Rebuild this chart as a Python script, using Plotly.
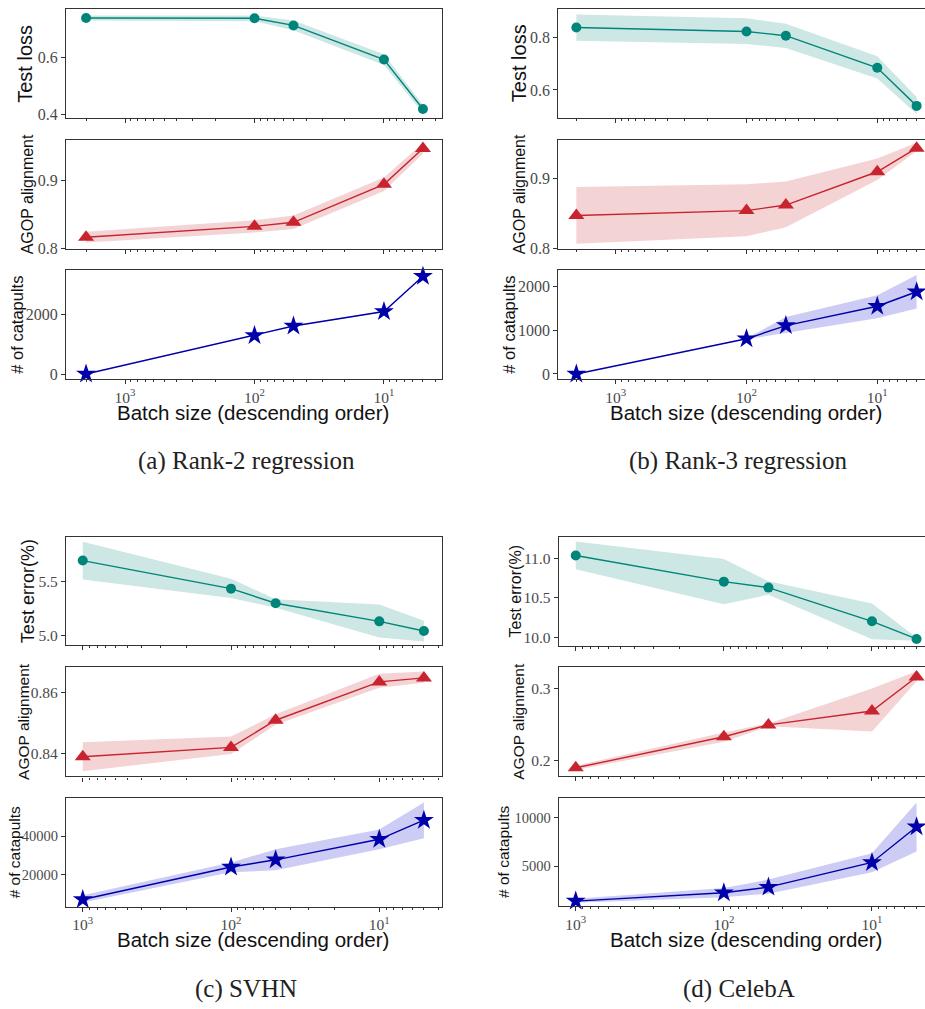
import plotly.graph_objects as go

W, H = 925, 1009

# ---------------- data ----------------
batch_ab = [2000, 100, 50, 10, 5]
batch_cd = [1000, 100, 50, 10, 5]

# (a) Rank-2 regression
a_loss    = [0.740, 0.739, 0.714, 0.594, 0.420]
a_loss_lo = [0.731, 0.729, 0.697, 0.575, 0.406]
a_loss_hi = [0.749, 0.749, 0.731, 0.613, 0.434]
a_agop    = [0.816, 0.832, 0.838, 0.894, 0.947]
a_agop_lo = [0.808, 0.823, 0.828, 0.884, 0.939]
a_agop_hi = [0.824, 0.841, 0.848, 0.904, 0.955]
a_cat     = [0, 1300, 1620, 2110, 3300]
a_cat_lo  = [0, 1290, 1605, 2090, 3280]
a_cat_hi  = [0, 1310, 1635, 2130, 3320]

# (b) Rank-3 regression
b_loss    = [0.836, 0.821, 0.805, 0.684, 0.540]
b_loss_lo = [0.786, 0.774, 0.759, 0.643, 0.509]
b_loss_hi = [0.885, 0.871, 0.850, 0.727, 0.574]
b_agop    = [0.847, 0.854, 0.862, 0.910, 0.944]
b_agop_lo = [0.806, 0.817, 0.830, 0.898, 0.940]
b_agop_hi = [0.888, 0.892, 0.896, 0.929, 0.952]
b_cat     = [0, 800, 1100, 1540, 1870]
b_cat_lo  = [0, 790, 932, 1270, 1488]
b_cat_hi  = [0, 810, 1293, 1788, 2248]

# (c) SVHN
c_err     = [5.687, 5.431, 5.298, 5.133, 5.045]
c_err_lo  = [5.515, 5.347, 5.256, 4.985, 4.949]
c_err_hi  = [5.859, 5.522, 5.335, 5.287, 5.139]
c_agop    = [0.8391, 0.8421, 0.8509, 0.8633, 0.8646]
c_agop_lo = [0.8344, 0.8400, 0.8494, 0.8614, 0.8630]
c_agop_hi = [0.8438, 0.8456, 0.8528, 0.8659, 0.8667]
c_cat     = [7200, 24000, 27700, 38300, 48200]
c_cat_lo  = [5640, 21230, 22260, 33180, 38800]
c_cat_hi  = [9400, 26360, 33100, 43430, 57300]

# (d) CelebA
d_err     = [11.034, 10.705, 10.630, 10.205, 9.983]
d_err_lo  = [10.860, 10.420, 10.540, 9.980, 9.960]
d_err_hi  = [11.210, 10.990, 10.710, 10.430, 10.000]
d_agop    = [0.190, 0.233, 0.2495, 0.2688, 0.316]
d_agop_lo = [0.187, 0.226, 0.2475, 0.2404, 0.310]
d_agop_hi = [0.193, 0.239, 0.2515, 0.300, 0.324]
d_cat     = [1450, 2300, 2880, 5400, 9050]
d_cat_lo  = [1280, 1850, 2200, 4390, 6520]
d_cat_hi  = [1700, 2800, 3650, 6350, 11520]

xtick_vals = [1000, 100, 10]
xtick_text = ["10<sup>3</sup>", "10<sup>2</sup>", "10<sup>1</sup>"]
minor_vals = [k * 10 ** e for e in range(0, 4) for k in range(2, 10)]

captions = ["(a) Rank-2 regression", "(b) Rank-3 regression", "(c) SVHN", "(d) CelebA"]

# ---------------- styles ----------------
TEAL, TEAL_F = "#00857a", "rgba(0,133,122,0.2)"
RED, RED_F = "#c8242f", "rgba(200,36,47,0.2)"
BLUE, BLUE_F = "#0000aa", "rgba(0,0,200,0.2)"
SPINE = "#333333"
TICKC = "#4a4a4a"
SERIF = "Liberation Serif, Times New Roman, serif"
SANS = "Liberation Sans, Arial, sans-serif"

panels = [
    dict(x=batch_ab, xr=[3.456, 0.554], xbox=(66, 441.7), right=False,
         rows=[(9.3, 119.3), (141, 250.7), (272.3, 382.3)],
         series=[(a_loss, a_loss_lo, a_loss_hi), (a_agop, a_agop_lo, a_agop_hi), (a_cat, a_cat_lo, a_cat_hi)],
         yr=[[0.387, 0.771], [0.799, 0.9596], [-178, 3507]],
         yt=[([0.4, 0.6], ["0.4", "0.6"]), ([0.8, 0.9], ["0.8", "0.9"]), ([0, 2000], ["0", "2000"])],
         ytitle=["Test loss", "AGOP alignment", "# of catapults"], ytsize=[20, 16, 16.5],
         ytx=[25, 27, 17], xtitle_c=253.5, xtitle_y=416, cap=(246, 465), tfs=[16, 16, 16]),
    dict(x=batch_ab, xr=[3.439, 0.635], xbox=(558.3, 925), right=True,
         rows=[(9.3, 119.0), (141, 250.7), (272.3, 382.3)],
         series=[(b_loss, b_loss_lo, b_loss_hi), (b_agop, b_agop_lo, b_agop_hi), (b_cat, b_cat_lo, b_cat_hi)],
         yr=[[0.494, 0.905], [0.799, 0.956], [-120, 2361]],
         yt=[([0.6, 0.8], ["0.6", "0.8"]), ([0.8, 0.9], ["0.8", "0.9"]), ([0, 1000, 2000], ["0", "1000", "2000"])],
         ytitle=["Test loss", "AGOP alignment", "# of catapults"], ytsize=[20, 16, 16.5],
         ytx=[518.5, 519, 509], xtitle_c=745.6, xtitle_y=416, cap=(737.5, 465), tfs=[16, 16, 16]),
    dict(x=batch_cd, xr=[3.113, 0.579], xbox=(66, 441.7), right=False,
         rows=[(541.7, 650), (672.7, 782.7), (804.3, 914)],
         series=[(c_err, c_err_lo, c_err_hi), (c_agop, c_agop_lo, c_agop_hi), (c_cat, c_cat_lo, c_cat_hi)],
         yr=[[4.919, 5.898], [0.8327, 0.868], [3436, 59692]],
         yt=[([5.0, 5.5], ["5.0", "5.5"]), ([0.84, 0.86], ["0.84", "0.86"]), ([20000, 40000], ["20000", "40000"])],
         ytitle=["Test error(%)", "AGOP alignment", "# of catapults"], ytsize=[18, 15.5, 15.5],
         ytx=[28, 24, 14], xtitle_c=252.5, xtitle_y=947, cap=(245.7, 997), tfs=[15.5, 15.5, 14.5]),
    dict(x=batch_cd, xr=[3.115, 0.642], xbox=(558.7, 925), right=True,
         rows=[(541.7, 650.7), (672.7, 782.3), (804.3, 913.3)],
         series=[(d_err, d_err_lo, d_err_hi), (d_agop, d_agop_lo, d_agop_hi), (d_cat, d_cat_lo, d_cat_hi)],
         yr=[[9.90, 11.2625], [0.1785, 0.3293], [944, 12000]],
         yt=[([10.0, 10.5, 11.0], ["10.0", "10.5", "11.0"]), ([0.2, 0.3], ["0.2", "0.3"]), ([5000, 10000], ["5000", "10000"])],
         ytitle=["Test error(%)", "AGOP alignment", "# of catapults"], ytsize=[16, 15.5, 15.5],
         ytx=[515, 519, 504], xtitle_c=745.8, xtitle_y=947, cap=(739, 997), tfs=[15.5, 15.5, 14.5]),
]

row_style = [
    dict(color=TEAL, fill=TEAL_F, symbol="circle", size=10),
    dict(color=RED, fill=RED_F, symbol="triangle-up", size=14),
    dict(color=BLUE, fill=BLUE_F, symbol="star", size=15),
]


def dx(x0, x1):
    return [x0 / W, min(x1 / W, 1.0)]


def dy(y0, y1):
    return [1 - y1 / H, 1 - y0 / H]


fig = go.Figure()
layout = {}
annotations = []
n = 0
for p in panels:
    for r in range(3):
        n += 1
        sfx = "" if n == 1 else str(n)
        xa, ya = "x" + sfx, "y" + sfx
        mean, lo, hi = p["series"][r]
        st = row_style[r]
        xs = p["x"]
        fig.add_trace(go.Scatter(
            x=list(xs) + list(xs[::-1]), y=list(hi) + list(lo[::-1]),
            fill="toself", fillcolor=st["fill"], line=dict(width=0),
            mode="lines", hoverinfo="skip", showlegend=False, xaxis=xa, yaxis=ya))
        fig.add_trace(go.Scatter(
            x=xs, y=mean, mode="lines+markers",
            line=dict(color=st["color"], width=1.4),
            marker=dict(symbol=st["symbol"], size=st["size"], color=st["color"], line=dict(width=0)),
            showlegend=False, xaxis=xa, yaxis=ya, cliponaxis=False))
        y0, y1 = p["rows"][r]
        layout["xaxis" + sfx] = dict(
            type="log", range=p["xr"], domain=dx(*p["xbox"]), anchor=ya,
            showline=True, linecolor=SPINE, linewidth=1.2, mirror=True,
            ticks="outside", ticklen=4, tickwidth=1, tickcolor=SPINE,
            tickmode="array", tickvals=xtick_vals, ticktext=xtick_text,
            showticklabels=(r == 2), showgrid=False, zeroline=False,
            tickfont=dict(family=SERIF, size=15.5, color=TICKC),
            minor=dict(tickmode="array", tickvals=minor_vals, ticks="outside",
                       ticklen=2, tickwidth=0.8, tickcolor=SPINE, showgrid=False),
        )
        tv, tt = p["yt"][r]
        layout["yaxis" + sfx] = dict(
            range=p["yr"][r], domain=dy(y0, y1), anchor=xa,
            showline=True, linecolor=SPINE, linewidth=1.2,
            mirror=(not p["right"]),
            ticks="outside", ticklen=4, tickwidth=1, tickcolor=SPINE,
            tickmode="array", tickvals=tv, ticktext=tt,
            showgrid=False, zeroline=False,
            tickfont=dict(family=SERIF, size=p["tfs"][r], color=TICKC),
        )
        annotations.append(dict(
            text=p["ytitle"][r], textangle=-90, xref="paper", yref="paper",
            x=p["ytx"][r] / W, y=1 - (y0 + y1) / 2 / H, xanchor="center", yanchor="middle",
            showarrow=False, font=dict(family=SANS, size=p["ytsize"][r], color="#111111")))
    annotations.append(dict(
        text="Batch size (descending order)", xref="paper", yref="paper",
        x=p["xtitle_c"] / W, y=1 - p["xtitle_y"] / H, xanchor="center", yanchor="middle",
        showarrow=False, font=dict(family=SANS, size=20.5, color="#111111")))

for p, cap in zip(panels, captions):
    annotations.append(dict(
        text=cap, xref="paper", yref="paper",
        x=p["cap"][0] / W, y=1 - p["cap"][1] / H, xanchor="center", yanchor="middle",
        showarrow=False, font=dict(family=SERIF, size=25, color="#222222")))

fig.update_layout(
    width=W, height=H, autosize=False,
    margin=dict(l=0, r=0, t=0, b=0),
    paper_bgcolor="white", plot_bgcolor="white",
    annotations=annotations, showlegend=False,
    **layout,
)

fig.write_html(
    "out.html",
    config={"displayModeBar": False},
    post_script="document.body.style.margin='0';document.body.style.overflow='hidden';",
)
